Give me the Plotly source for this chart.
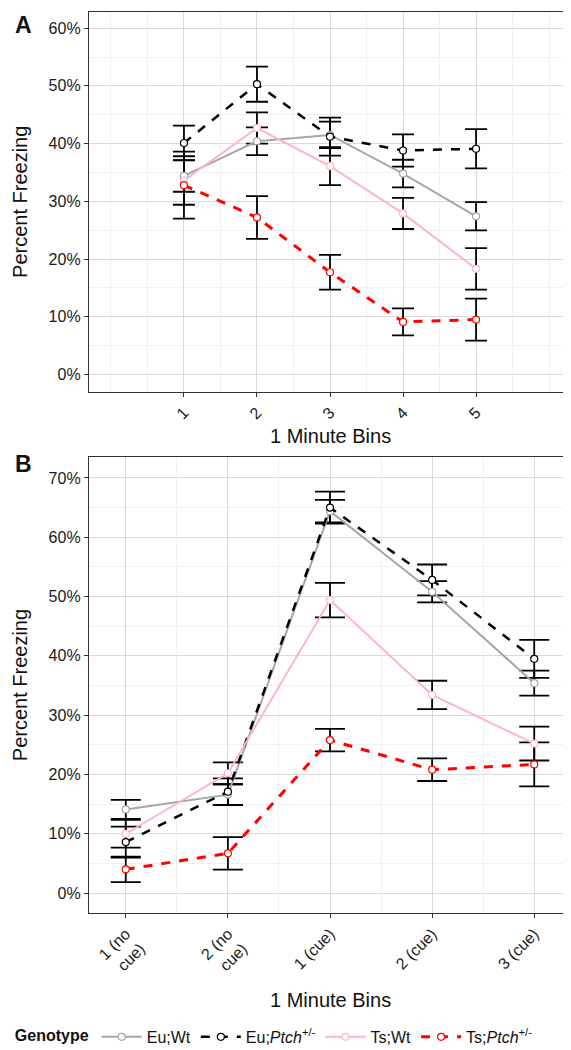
import plotly.graph_objects as go

# ---------------- data ----------------
bins_a = [1, 2, 3, 4, 5]
bin_labels_a = ["1", "2", "3", "4", "5"]
bins_b = [1, 2, 3, 4, 5]
bin_labels_b = ["1 (no<br>cue)", "2 (no<br>cue)", "1 (cue)", "2 (cue)", "3 (cue)"]

genotypes = ["Eu;Wt", "Eu;<i>Ptch</i><sup>+/-</sup>", "Ts;Wt", "Ts;<i>Ptch</i><sup>+/-</sup>"]

# Panel A (percent freezing, mean and error)
a_eu_wt = [34.4, 40.4, 41.5, 34.8, 27.4]
a_eu_wt_err = [2.75, 2.4, 2.3, 2.4, 2.45]
a_eu_ptch = [40.1, 50.3, 41.2, 38.8, 39.1]
a_eu_ptch_err = [3.0, 3.05, 3.3, 2.8, 3.4]
a_ts_wt = [33.6, 42.7, 36.1, 27.9, 18.3]
a_ts_wt_err = [4.2, 2.7, 3.3, 2.7, 3.6]
a_ts_ptch = [32.8, 27.2, 17.7, 9.1, 9.5]
a_ts_ptch_err = [5.8, 3.7, 3.0, 2.35, 3.65]

# Panel B
b_eu_wt = [14.1, 16.6, 64.4, 50.8, 35.4]
b_eu_wt_err = [1.6, 1.75, 1.9, 1.8, 2.1]
b_eu_ptch = [8.6, 17.1, 65.0, 52.8, 39.5]
b_eu_ptch_err = [2.6, 2.25, 2.7, 2.6, 3.2]
b_ts_wt = [10.0, 20.2, 49.4, 33.4, 25.2]
b_ts_wt_err = [2.35, 1.85, 2.9, 2.4, 2.85]
b_ts_ptch = [4.0, 6.7, 25.8, 20.8, 21.7]
b_ts_ptch_err = [2.15, 2.75, 1.9, 1.9, 3.7]

# ---------------- style ----------------
line_colors = ["#a6a6a6", "#000000", "#ffb6c1", "#ff0000"]
marker_lines = ["#a6a6a6", "#000000", "#ffb6c1", "#ff0000"]
dashes = ["solid", "dash", "solid", "dash"]
widths = [2, 2.5, 2, 3]
FONT = "Liberation Sans, Arial, sans-serif"

fig = go.Figure()

panels = [
    ("x", "y", bins_a, [a_eu_wt, a_eu_ptch, a_ts_wt, a_ts_ptch],
     [a_eu_wt_err, a_eu_ptch_err, a_ts_wt_err, a_ts_ptch_err], 11, True),
    ("x2", "y2", bins_b, [b_eu_wt, b_eu_ptch, b_ts_wt, b_ts_ptch],
     [b_eu_wt_err, b_eu_ptch_err, b_ts_wt_err, b_ts_ptch_err], 15, False),
]

for xa, ya, xs, series, errs, capw, show in panels:
    # error bars underneath
    for vals, err in zip(series, errs):
        fig.add_trace(go.Scatter(
            x=xs, y=vals, xaxis=xa, yaxis=ya, mode="markers",
            marker=dict(size=1, color="rgba(0,0,0,0)"),
            error_y=dict(type="data", array=err, color="black", thickness=1.8, width=capw),
            showlegend=False, hoverinfo="skip"))
    # lines + points
    for i, vals in enumerate(series):
        fig.add_trace(go.Scatter(
            x=xs, y=vals, xaxis=xa, yaxis=ya, mode="lines+markers",
            name=genotypes[i], legendgroup=genotypes[i], showlegend=show,
            line=dict(color=line_colors[i], width=widths[i], dash=dashes[i]),
            marker=dict(symbol="circle", size=7, color="white",
                        line=dict(color=marker_lines[i], width=1.2))))

common = dict(
    showgrid=True, gridcolor="#dadada", gridwidth=1,
    ticks="outside", ticklen=4, tickcolor="#333333", tickwidth=1,
    showline=True, mirror=True, linecolor="#333333", linewidth=1.3,
    zeroline=False,
    tickfont=dict(family=FONT, size=16, color="#1a1a1a"),
)

fig.update_layout(
    width=571, height=1050,
    paper_bgcolor="white", plot_bgcolor="white",
    margin=dict(l=81, r=8, t=4, b=20),
    font=dict(family=FONT, color="#111111"),
    xaxis=dict(common, domain=[0, 1], anchor="y", range=[-0.3, 6.3],
               tickmode="array", tickvals=bins_a, ticktext=bin_labels_a, tickangle=-45,
               minor=dict(tickmode="linear", tick0=0, dtick=0.5, showgrid=True, gridcolor="#f1f1f1")),
    yaxis=dict(common, domain=[0.6267, 1], anchor="x", range=[-3.05, 62.8],
               tick0=0, dtick=10, ticksuffix="%",
               minor=dict(tick0=0, dtick=5, showgrid=True, gridcolor="#f1f1f1")),
    xaxis2=dict(common, domain=[0, 1], anchor="y2", range=[0.64, 5.36],
                tickmode="array", tickvals=bins_b, ticktext=bin_labels_b, tickangle=-45,
                minor=dict(tickmode="linear", tick0=0.5, dtick=0.5, showgrid=True, gridcolor="#f1f1f1")),
    yaxis2=dict(common, domain=[0.1147, 0.5627], anchor="x2", range=[-3.4, 73.5],
                tick0=0, dtick=10, ticksuffix="%",
                minor=dict(tick0=0, dtick=5, showgrid=True, gridcolor="#f1f1f1")),
    legend=dict(orientation="h", x=-0.158, xanchor="left", y=-0.0068, yanchor="middle",
                title=dict(text="<b>Genotype</b>", side="left", font=dict(size=16, family=FONT, color="#111")),
                font=dict(size=16, family=FONT, color="#111"),
                itemwidth=40, bgcolor="rgba(0,0,0,0)"),
    showlegend=True,
)

ann = [
    dict(text="<b>A</b>", x=-0.158, y=0.9873, xanchor="left", yanchor="middle", font=dict(size=23)),
    dict(text="<b>B</b>", x=-0.158, y=0.5556, xanchor="left", yanchor="middle", font=dict(size=23)),
    dict(text="Percent Freezing", x=-0.1432, y=0.8134, textangle=-90, xanchor="center", yanchor="middle", font=dict(size=20)),
    dict(text="Percent Freezing", x=-0.1432, y=0.3387, textangle=-90, xanchor="center", yanchor="middle", font=dict(size=20)),
    dict(text="1 Minute Bins", x=0.5, y=0.5831, xanchor="center", yanchor="middle", font=dict(size=20)),
    dict(text="1 Minute Bins", x=0.5, y=0.0292, xanchor="center", yanchor="middle", font=dict(size=20)),
]
for a in ann:
    a.update(xref="paper", yref="paper", showarrow=False)
    a["font"].update(family=FONT, color="#111111")
    fig.add_annotation(**a)

fig.write_html("out.html")
